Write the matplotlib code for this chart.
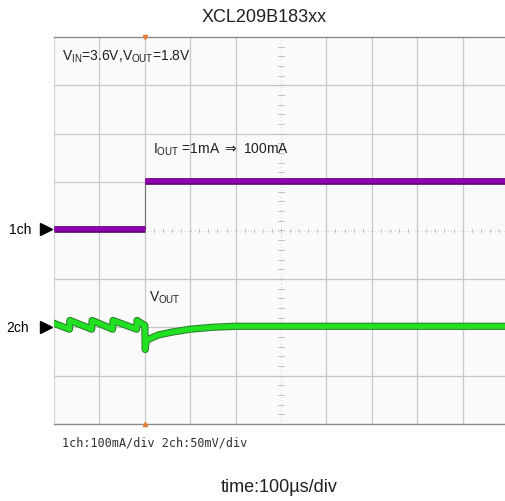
import numpy as np
import matplotlib
matplotlib.use('Agg')
import matplotlib.pyplot as plt

plt.rcParams['font.family'] = ['Liberation Sans', 'DejaVu Sans']

# scope settings
ch1_scale = 100.0   # mA/div
ch2_scale = 50.0    # mV/div
ch1_ref = 0.03      # div
ch2_ref = -2.0      # div

# 1ch: output current (mA)
t_iout = [0, 200, 200, 1000]
iout = [1, 1, 100, 100]

# 2ch: output voltage deviation (mV)
t_vout = [0, 34, 35, 83, 84, 129, 130, 182, 183, 199, 200, 201, 203,
          210, 230, 260, 300, 350, 400, 500, 600, 700, 800, 1000]
vout = [4, -2, 7, -2, 7, -2, 7, -2, 7, 2, 2, -23, -14,
        -12, -8, -5, -2, 0, 1, 1, 1, 1, 1, 1]

fig = plt.figure(figsize=(5.05, 5.02), dpi=100)
ax = fig.add_axes([54 / 505, 1 - 425 / 502, 454 / 505, 387 / 502])
ax.set_xlim(0, 1000)
ax.set_ylim(-4, 4)
ax.set_facecolor('#f9faf9')

# graticule
for x in range(100, 1000, 100):
    if x == 500:
        continue
    ax.axvline(x, color='#c8c8c8', lw=0.9, zorder=1)
for y in range(-3, 4):
    if y == 0:
        continue
    ax.axhline(y, color='#c8c8c8', lw=0.9, zorder=1)
ax.axvline(500, color='#c4c4c4', lw=0.6, ls=(0, (1, 3)), zorder=1)
ax.axhline(0, color='#c4c4c4', lw=0.6, ls=(0, (1, 3)), zorder=1)
for k in np.arange(-4, 4.01, 0.2):
    ax.plot([494, 506], [k, k], color='#b8b8b8', lw=0.6, zorder=1)
for k in np.arange(0, 1000.1, 20):
    ax.plot([k, k], [-0.03, 0.03], color='#b8b8b8', lw=0.6, zorder=1)

for s in ['top', 'bottom']:
    ax.spines[s].set_color('#8c8c8c')
    ax.spines[s].set_linewidth(1.0)
ax.spines['left'].set_color('#d0d0d0')
ax.spines['right'].set_visible(False)
ax.set_xticks([])
ax.set_yticks([])

# trigger markers
ax.plot([200], [4], marker='v', color='#e08030', ms=3, clip_on=False, zorder=5)
ax.plot([200], [-4], marker='^', color='#e08030', ms=3, clip_on=False, zorder=5)

# traces
y1 = [ch1_ref + v / ch1_scale for v in iout]
ax.plot(t_iout[1:3], y1[1:3], color='#707070', lw=0.8, zorder=3)
for a, b in [(0, 2), (2, 4)]:
    ax.plot(t_iout[a:b], y1[a:b], color='#5c0070', lw=4.8, solid_capstyle='butt', zorder=3)
    ax.plot(t_iout[a:b], y1[a:b], color='#9000b0', lw=3.2, solid_capstyle='butt', zorder=4)

y2 = [ch2_ref + v / ch2_scale for v in vout]
ax.plot(t_vout, y2, color='#2c7a2c', lw=5.2, zorder=3)
ax.plot(t_vout, y2, color='#22e022', lw=3.8, zorder=4)

# annotations inside the screen
ax.text(18, 3.62, r'V$_{\mathregular{IN}}$=3.6V,V$_{\mathregular{OUT}}$=1.8V',
        fontsize=10, color='#202020', va='center', ha='left')
ax.text(218, 1.68, r'I$_{\mathregular{OUT}}$ =1mA $\Rightarrow$ 100mA',
        fontsize=10, color='#202020', va='center', ha='left')
ax.text(210, -1.38, r'V$_{\mathregular{OUT}}$', fontsize=10, color='#202020',
        va='center', ha='left')

# channel markers
fig.text(9 / 505, 1 - 230 / 502, '1ch', fontsize=10, va='center', ha='left')
fig.text(6 / 505, 1 - 328 / 502, '2ch', fontsize=10, va='center', ha='left')
ax.plot([-17], [ch1_ref], marker='>', color='black', ms=9, clip_on=False, zorder=6)
ax.plot([-17], [ch2_ref], marker='>', color='black', ms=9, clip_on=False, zorder=6)

fig.text(264 / 505, 1 - 18 / 502, 'XCL209B183xx', fontsize=13, ha='center', va='center',
         color='#202020')
fig.text(62 / 505, 1 - 443 / 502, '1ch:100mA/div 2ch:50mV/div', fontsize=8.5,
         family='DejaVu Sans Mono', ha='left', va='center', color='#303030')
fig.text(279 / 505, 1 - 488 / 502, 'time:100µs/div', fontsize=13, ha='center',
         va='center', color='#202020')

fig.savefig('out.png', dpi=100)
